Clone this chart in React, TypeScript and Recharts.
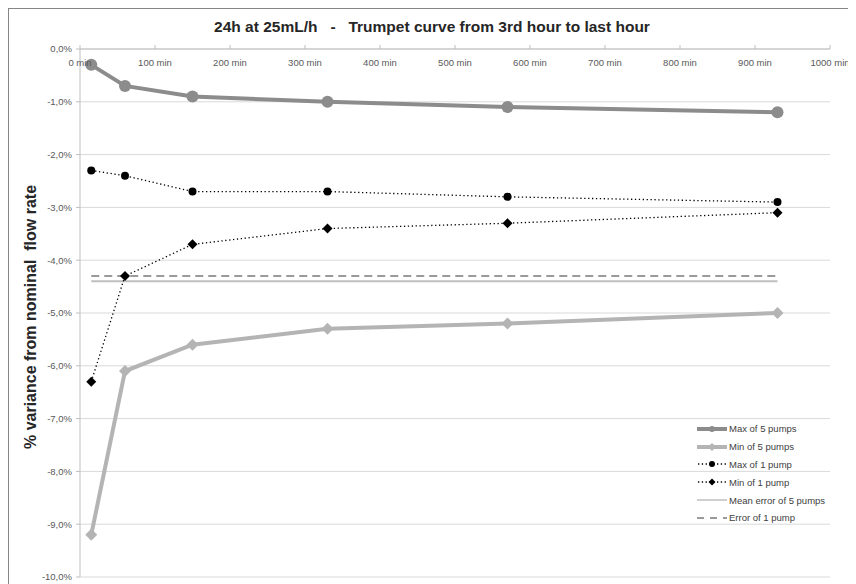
import { LineChart, Line, XAxis, YAxis, CartesianGrid } from 'recharts';

const minutes = [15, 60, 150, 330, 570, 930];
const maxOf5Pumps = [-0.3, -0.7, -0.9, -1.0, -1.1, -1.2];
const minOf5Pumps = [-9.2, -6.1, -5.6, -5.3, -5.2, -5.0];
const maxOf1Pump = [-2.3, -2.4, -2.7, -2.7, -2.8, -2.9];
const minOf1Pump = [-6.3, -4.3, -3.7, -3.4, -3.3, -3.1];
const meanError5Pumps = [-4.4, -4.4, -4.4, -4.4, -4.4, -4.4];
const error1Pump = [-4.3, -4.3, -4.3, -4.3, -4.3, -4.3];

const xTicks = [0, 100, 200, 300, 400, 500, 600, 700, 800, 900, 1000];
const yTicks = [0, -1, -2, -3, -4, -5, -6, -7, -8, -9, -10];

const data = minutes.map((t, i) => ({
  t,
  max5: maxOf5Pumps[i],
  min5: minOf5Pumps[i],
  max1: maxOf1Pump[i],
  min1: minOf1Pump[i],
  mean5: meanError5Pumps[i],
  err1: error1Pump[i],
}));

const FONT = '"Liberation Sans", Arial, sans-serif';
const C_MAX5 = '#8c8c8c';
const C_MIN5 = '#b4b4b4';
const C_MEAN = '#bfbfbf';
const C_ERR = '#9a9a9a';

const fmtPct = (v: number) => Math.abs(v).toFixed(1).replace('.', ',') + '%';
const yLabel = (v: number) => (v === 0 ? '0,0%' : '-' + fmtPct(v));

const diamond = (size: number, fill: string) => (props: any) => {
  const { cx, cy, index } = props;
  if (cx == null || cy == null) return <g key={index} />;
  return (
    <polygon
      key={index}
      points={`${cx},${cy - size} ${cx + size},${cy} ${cx},${cy + size} ${cx - size},${cy}`}
      fill={fill}
    />
  );
};

const XTick = (props: any) => {
  const { x, y, payload } = props;
  return (
    <text x={x} y={y + 23} textAnchor="middle" fontSize={9.5} fill="#595959" fontFamily={FONT}>
      {payload.value} min
    </text>
  );
};

const legendItems = [
  { name: 'Max of 5 pumps', kind: 'max5' },
  { name: 'Min of 5 pumps', kind: 'min5' },
  { name: 'Max of 1 pump', kind: 'max1' },
  { name: 'Min of 1 pump', kind: 'min1' },
  { name: 'Mean error of 5 pumps', kind: 'mean5' },
  { name: 'Error of 1 pump', kind: 'err1' },
];

const LegendIcon = ({ kind }: { kind: string }) => (
  <svg width={32} height={10} style={{ display: 'block' }}>
    {kind === 'max5' && (
      <>
        <line x1={1} y1={5} x2={31} y2={5} stroke={C_MAX5} strokeWidth={4} />
        <circle cx={16} cy={5} r={3} fill={C_MAX5} />
      </>
    )}
    {kind === 'min5' && (
      <>
        <line x1={1} y1={5} x2={31} y2={5} stroke={C_MIN5} strokeWidth={4} />
        <polygon points="16,1 20,5 16,9 12,5" fill={C_MIN5} />
      </>
    )}
    {kind === 'max1' && (
      <>
        <line x1={2} y1={5} x2={31} y2={5} stroke="#000" strokeWidth={1.3} strokeDasharray="1.3 2.5" />
        <circle cx={16} cy={5} r={3} fill="#000" />
      </>
    )}
    {kind === 'min1' && (
      <>
        <line x1={2} y1={5} x2={31} y2={5} stroke="#000" strokeWidth={1.3} strokeDasharray="1.3 2.5" />
        <polygon points="16,1.5 19.5,5 16,8.5 12.5,5" fill="#000" />
      </>
    )}
    {kind === 'mean5' && <line x1={1} y1={5} x2={31} y2={5} stroke={C_MEAN} strokeWidth={1.5} />}
    {kind === 'err1' && (
      <line x1={1} y1={5} x2={31} y2={5} stroke={C_ERR} strokeWidth={2} strokeDasharray="7 6" />
    )}
  </svg>
);

export default function App() {
  return (
    <div style={{ position: 'relative', width: 843, height: 598, background: '#fff' }}>
      {/* frame: only the top and left edges fall inside the window */}
      <svg
        width={848}
        height={598}
        style={{ position: 'absolute', left: 0, top: 0, pointerEvents: 'none', zIndex: 3 }}
      >
        <line x1={0} y1={0.5} x2={848} y2={0.5} stroke="#868686" strokeWidth={1} />
        <line x1={0.5} y1={0} x2={0.5} y2={598} stroke="#868686" strokeWidth={1} />
      </svg>
      <div
        style={{
          position: 'absolute',
          left: 0,
          top: 10,
          width: 848,
          textAlign: 'center',
          fontFamily: FONT,
          fontWeight: 'bold',
          fontSize: 15.5,
          color: '#262626',
          whiteSpace: 'pre',
          zIndex: 2,
        }}
      >
        {'24h at 25mL/h   -   Trumpet curve from 3rd hour to last hour'}
      </div>
      <div
        style={{
          position: 'absolute',
          left: 23,
          top: 309,
          transform: 'translate(-50%, -50%) rotate(-90deg)',
          fontFamily: FONT,
          fontWeight: 'bold',
          fontSize: 16,
          color: '#262626',
          whiteSpace: 'pre',
          zIndex: 2,
        }}
      >
        {'% variance from nominal  flow rate'}
      </div>
      <div
        style={{
          position: 'absolute',
          left: 688,
          top: 412,
          fontFamily: FONT,
          fontSize: 9.5,
          color: '#404040',
          zIndex: 2,
        }}
      >
        {legendItems.map((it) => (
          <div key={it.kind} style={{ display: 'flex', alignItems: 'center', height: 17.8 }}>
            <LegendIcon kind={it.kind} />
            <span style={{ marginLeft: 1 }}>{it.name}</span>
          </div>
        ))}
      </div>
      <LineChart
        width={843}
        height={598}
        data={data}
        margin={{ top: 21, right: 21, bottom: 29, left: 12 }}
      >
        <CartesianGrid vertical={false} stroke="#d9d9d9" strokeWidth={1} />
        <XAxis
          dataKey="t"
          type="number"
          orientation="top"
          domain={[0, 1000]}
          ticks={xTicks}
          height={20}
          tickSize={4}
          tickMargin={2}
          stroke="#bfbfbf"
          tick={<XTick />}
          interval={0}
          allowDataOverflow
        />
        <YAxis
          type="number"
          domain={[-10, 0]}
          ticks={yTicks}
          width={60}
          tickSize={4}
          tickMargin={4}
          stroke="#bfbfbf"
          tick={{ fontSize: 9.5, fill: '#595959', fontFamily: FONT }}
          tickFormatter={yLabel}
          interval={0}
        />
        <Line
          dataKey="mean5"
          name="Mean error of 5 pumps"
          stroke={C_MEAN}
          strokeWidth={2}
          dot={false}
          isAnimationActive={false}
        />
        <Line
          dataKey="err1"
          name="Error of 1 pump"
          stroke={C_ERR}
          strokeWidth={2}
          strokeDasharray="8 5"
          dot={false}
          isAnimationActive={false}
        />
        <Line
          dataKey="max1"
          name="Max of 1 pump"
          stroke="#000"
          strokeWidth={1.3}
          strokeDasharray="1.3 2.6"
          dot={{ r: 4, fill: '#000', stroke: 'none' }}
          isAnimationActive={false}
        />
        <Line
          dataKey="min1"
          name="Min of 1 pump"
          stroke="#000"
          strokeWidth={1.3}
          strokeDasharray="1.3 2.6"
          dot={diamond(5, '#000')}
          isAnimationActive={false}
        />
        <Line
          dataKey="min5"
          name="Min of 5 pumps"
          stroke={C_MIN5}
          strokeWidth={4}
          dot={diamond(6, C_MIN5)}
          isAnimationActive={false}
        />
        <Line
          dataKey="max5"
          name="Max of 5 pumps"
          stroke={C_MAX5}
          strokeWidth={4}
          dot={{ r: 6, fill: C_MAX5, stroke: 'none' }}
          isAnimationActive={false}
        />
      </LineChart>
    </div>
  );
}
